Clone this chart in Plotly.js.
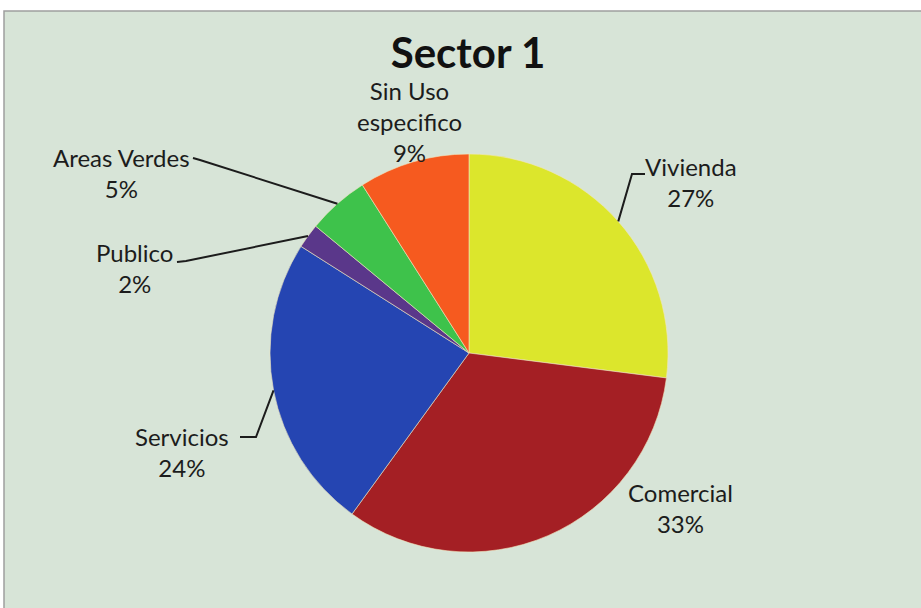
<!DOCTYPE html>
<html>
<head>
<meta charset="utf-8">
<script src="https://cdn.plot.ly/plotly-3.0.1.min.js"></script>
<style>
  html, body { margin: 0; padding: 0; background: #ffffff; }
  #chart { width: 921px; height: 608px; }
</style>
</head>
<body>
<div id="chart"></div>
<script>
// ---- Data ----
const categories = ['Vivienda', 'Comercial', 'Servicios', 'Publico', 'Areas Verdes', 'Sin Uso especifico'];
const values = [27, 33, 24, 2, 5, 9];
const displayNames = ['Vivienda', 'Comercial', 'Servicios', 'Publico', 'Areas Verdes', 'Sin Uso<br>especifico'];
const chartTitle = 'Sector 1';

// ---- Styles / layout positions ----
const sliceColors = ['#DCE62C', '#A41F24', '#2545B2', '#5A378A', '#3EC24B', '#F65A1F'];
const W = 921, H = 608;
const cx = 469, cy = 353, R = 199;
const px = x => x / W;
const py = y => 1 - y / H;

// label block centres (pixels)
const labelPos = [
  [691, 182],  // Vivienda
  [680, 508],  // Comercial
  [182, 452],  // Servicios
  [134, 268],  // Publico
  [121, 173],  // Areas Verdes
  [409, 121]   // Sin Uso
];
// leader elbows and ends (pixels); null = no leader
const leaders = [
  [[632, 174], [645, 174]],
  null,
  [[256, 437], [240, 437]],
  [[186, 261], [177, 262]],
  [[200, 160], [193, 158]],
  null
];

const total = values.reduce((a, b) => a + b, 0);
const annotations = [];
const shapes = [];

// background panel
shapes.push({
  type: 'rect', xref: 'paper', yref: 'paper', layer: 'below',
  x0: px(4), x1: px(930), y0: py(620), y1: py(11),
  fillcolor: '#D7E4D7', line: { color: '#9E9E9E', width: 1.5 }
});

let cum = 0;
values.forEach((v, i) => {
  const mid = (cum + v / 2) / total;
  cum += v;
  const pct = Math.round(v / total * 100) + '%';
  annotations.push({
    xref: 'paper', yref: 'paper',
    x: px(labelPos[i][0]), y: py(labelPos[i][1]),
    xanchor: 'center', yanchor: 'middle', align: 'center',
    showarrow: false,
    text: displayNames[i] + '<br>' + pct,
    font: { family: 'Lato, "Open Sans", sans-serif', size: 24, color: '#1c1c1c' }
  });
  if (leaders[i]) {
    const th = 2 * Math.PI * mid;
    const ax = cx + R * Math.sin(th);
    const ay = cy - R * Math.cos(th);
    const [e, t] = leaders[i];
    shapes.push({
      type: 'path', xref: 'paper', yref: 'paper', layer: 'above',
      path: `M ${px(ax)} ${py(ay)} L ${px(e[0])} ${py(e[1])} L ${px(t[0])} ${py(t[1])}`,
      line: { color: '#1c1c1c', width: 2 }
    });
  }
});

const trace = {
  type: 'pie',
  labels: categories,
  values: values,
  sort: false,
  direction: 'clockwise',
  rotation: 0,
  textinfo: 'none',
  hoverinfo: 'label+percent',
  marker: { colors: sliceColors, line: { color: 'rgba(240,230,190,0.6)', width: 1 } },
  domain: { x: [px(cx - R), px(cx + R)], y: [py(cy + R), py(cy - R)] },
  showlegend: false
};

const layout = {
  width: W, height: H,
  margin: { l: 0, r: 0, t: 0, b: 0 },
  paper_bgcolor: '#ffffff',
  plot_bgcolor: 'rgba(0,0,0,0)',
  showlegend: false,
  title: {
    text: '<b>' + chartTitle + '</b>',
    x: px(468), y: py(53), xanchor: 'center', yanchor: 'middle',
    xref: 'paper', yref: 'paper',
    font: { family: 'Lato, "Open Sans", sans-serif', size: 42, color: '#111111' }
  },
  shapes: shapes,
  annotations: annotations
};

Plotly.newPlot('chart', [trace], layout, { displayModeBar: false, staticPlot: true });
</script>
</body>
</html>
